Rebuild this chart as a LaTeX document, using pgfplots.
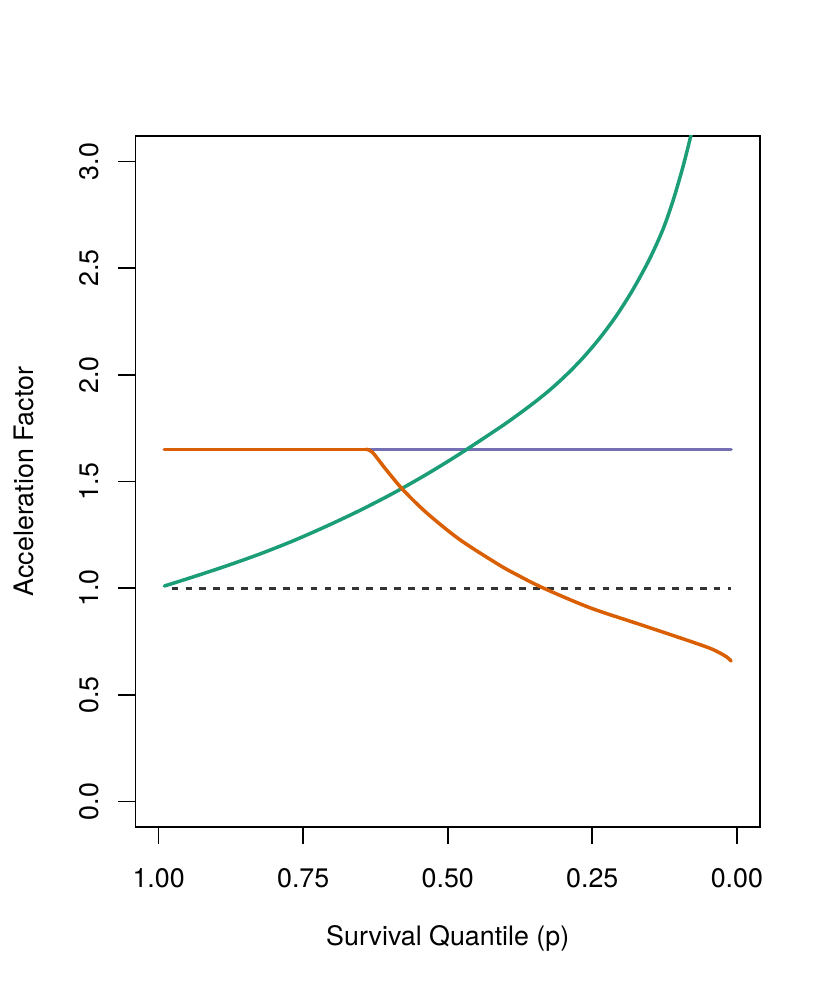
\documentclass[border=0pt]{standalone}
\usepackage{fontspec}
\setmainfont{TeX Gyre Heros}
\usepackage{pgfplots}
\pgfplotsset{compat=1.18}
\definecolor{dgreen}{HTML}{1B9E77}
\definecolor{dorange}{HTML}{D95F02}
\definecolor{dpurple}{HTML}{7570B3}
\definecolor{dgray}{HTML}{333333}
\newcommand{\lblfont}{\fontsize{13.4bp}{16bp}\selectfont}
\begin{document}
\begin{tikzpicture}
\path[use as bounding box] (0,0) rectangle (415bp,498.5bp);
\begin{axis}[
  at={(67.75bp,85bp)}, anchor=south west,
  scale only axis, width=312.25bp, height=345.5bp,
  x dir=reverse,
  xmin=-0.04, xmax=1.04, ymin=-0.12, ymax=3.12,
  xtick={0,0.25,0.5,0.75,1}, xticklabels={0.00,0.25,0.50,0.75,1.00},
  ytick={0,0.5,1,1.5,2,2.5,3}, yticklabels={0.0,0.5,1.0,1.5,2.0,2.5,3.0},
  /pgf/number format/assume math mode=true,
  tick align=outside, xtick pos=left, ytick pos=left,
  major tick length=8.5bp,
  tick style={line width=0.85bp, black},
  axis line style={line width=0.85bp, black},
  tick label style={font=\lblfont},
  xticklabel style={anchor=base, yshift=-21.85bp, inner sep=0pt},
  yticklabel style={rotate=90, anchor=base, yshift=10bp, inner sep=0pt},
  xlabel={Survival Quantile (p)},
  ylabel={Acceleration Factor},
  xlabel style={font=\lblfont, at={(axis description cs:0.5,-0.17077)}, anchor=base, inner sep=0pt},
  ylabel style={font=\lblfont, at={(axis description cs:-0.16365,0.5)}, anchor=base, inner sep=0pt},
  clip=true,
  every axis plot/.append style={line width=1.75bp, line cap=round, line join=round},
]
% reference line
\addplot[dgray, line width=1.45bp, line cap=butt, dash pattern=on 3.35bp off 3.6bp, dash phase=3.35bp] coordinates {(0.99,1.0) (0.01,1.0)};
% constant acceleration factor
\addplot[dpurple] coordinates {(0.99,1.651) (0.01,1.651)};
% increasing curve
\addplot[dgreen, smooth] coordinates {
(0.990,1.010) (0.941,1.052) (0.883,1.104) (0.826,1.159) (0.768,1.221)
(0.710,1.290) (0.653,1.363) (0.595,1.444) (0.537,1.533) (0.480,1.628)
(0.4106,1.752) (0.3817,1.807) (0.3529,1.865) (0.3240,1.928) (0.2952,1.999)
(0.2664,2.079) (0.2375,2.171) (0.2087,2.276) (0.1799,2.399) (0.1510,2.543)
(0.1280,2.681) (0.1107,2.814) (0.0934,2.974) (0.0789,3.129) (0.0700,3.237)};
% piecewise curve
\addplot[dorange] coordinates {(0.99,1.651) (0.641,1.651)};
\addplot[dorange, smooth] coordinates {
(0.641,1.651) (0.630,1.636) (0.607,1.557) (0.578,1.463) (0.537,1.354)
(0.480,1.229) (0.413,1.112) (0.382,1.065) (0.336,1.002) (0.255,0.909)
(0.168,0.830) (0.082,0.752) (0.042,0.713) (0.018,0.678) (0.010,0.658)};
\end{axis}
\end{tikzpicture}
\end{document}
